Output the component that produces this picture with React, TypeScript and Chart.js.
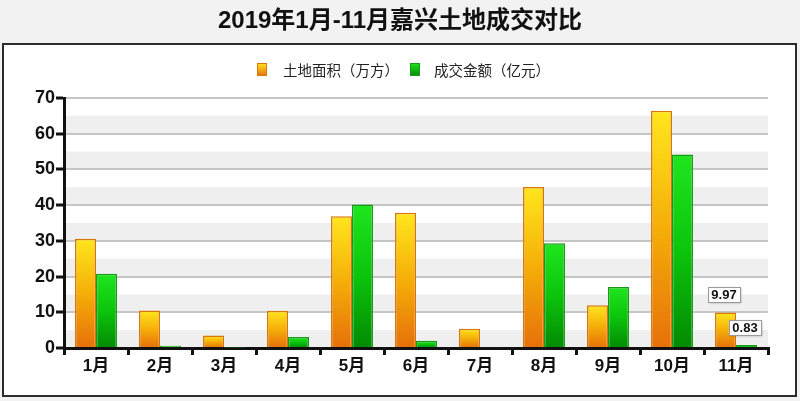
import React, { useEffect, useRef } from "react";
import { Chart, registerables } from "chart.js";

Chart.register(...registerables);

const titleText = "2019年1月-11月嘉兴土地成交对比";
const categories = ["1月", "2月", "3月", "4月", "5月", "6月", "7月", "8月", "9月", "10月", "11月"];
const seriesNames = ["土地面积（万方）", "成交金额（亿元）"];
const landArea = [30.6, 10.5, 3.5, 10.4, 36.9, 37.9, 5.4, 45.1, 12.0, 66.4, 9.97];
const dealAmount = [20.8, 0.6, 0.15, 3.1, 40.2, 2.0, 0.2, 29.3, 17.1, 54.2, 0.83];
const labeledIndex = [10];
const yMin = 0;
const yMax = 70;

const CJK = "'Liberation Sans', Arial, 'Noto Sans CJK SC', sans-serif";

const palettes = [
  { top: "#ffe61e", mid: "#f5ae08", bottom: "#e6700a", border: "#d8760a" },
  { top: "#1ee61e", mid: "#0cc40c", bottom: "#038a03", border: "#189a18" },
];

function makeGradient(ctx: any, idx: number) {
  const chart = ctx.chart;
  const p = palettes[idx];
  const area = chart.chartArea;
  if (!area || ctx.type !== "data" || !chart.scales || !chart.scales.y) return p.mid;
  const y = chart.scales.y;
  const v = Number(ctx.raw);
  const top = y.getPixelForValue(v);
  const bottom = y.getPixelForValue(0);
  if (!isFinite(top) || !isFinite(bottom) || bottom - top < 1) return p.mid;
  const g = chart.ctx.createLinearGradient(0, top, 0, bottom);
  g.addColorStop(0, p.top);
  g.addColorStop(0.5, p.mid);
  g.addColorStop(1, p.bottom);
  return g;
}

const backgroundPlugin = {
  id: "bgPanel",
  beforeDraw(chart: any) {
    const { ctx, chartArea, scales } = chart;
    ctx.save();
    ctx.fillStyle = "#f2f2f2";
    ctx.fillRect(0, 0, chart.width, chart.height);
    ctx.fillStyle = "#ffffff";
    ctx.fillRect(3, 44, 793, 352);
    ctx.strokeStyle = "#2b2b2b";
    ctx.lineWidth = 2;
    ctx.strokeRect(3, 44, 793, 352);
    if (chartArea && scales.y) {
      ctx.fillStyle = "#efefef";
      for (let v = yMin; v < yMax; v += 10) {
        const y1 = scales.y.getPixelForValue(v + 5);
        const y0 = scales.y.getPixelForValue(v);
        ctx.fillRect(chartArea.left, y1, chartArea.right - chartArea.left, y0 - y1);
      }
    }
    ctx.fillStyle = "#111111";
    ctx.font = `bold 24px ${CJK}`;
    ctx.textAlign = "center";
    ctx.textBaseline = "middle";
    ctx.fillText(titleText, 400, 21);
    const items = [
      { x: 257, tx: 283, p: palettes[0], name: seriesNames[0] },
      { x: 410, tx: 434, p: palettes[1], name: seriesNames[1] },
    ];
    items.forEach((it) => {
      const g = ctx.createLinearGradient(0, 63, 0, 76);
      g.addColorStop(0, it.p.top);
      g.addColorStop(1, it.p.bottom);
      ctx.fillStyle = g;
      ctx.fillRect(it.x, 63, 10, 13);
      ctx.strokeStyle = it.p.border;
      ctx.lineWidth = 1;
      ctx.strokeRect(it.x + 0.5, 63.5, 9, 12);
      ctx.fillStyle = "#222222";
      ctx.font = `14.5px 'Noto Sans CJK SC', sans-serif`;
      ctx.textAlign = "left";
      ctx.textBaseline = "middle";
      ctx.fillText(it.name, it.tx, 70);
    });
    ctx.restore();
  },
};

const labelPlugin = {
  id: "valueLabels",
  afterDatasetsDraw(chart: any) {
    const { ctx } = chart;
    ctx.save();
    chart.data.datasets.forEach((ds: any, di: number) => {
      const meta = chart.getDatasetMeta(di);
      labeledIndex.forEach((idx) => {
        const el = meta.data[idx];
        if (!el) return;
        const text = Number(ds.data[idx]).toFixed(2);
        ctx.font = `bold 13px ${CJK}`;
        const w = ctx.measureText(text).width + 7;
        const h = 15;
        const cx = el.x - 1.5;
        const bottom = el.y - 10;
        ctx.shadowColor = "rgba(0,0,0,0.35)";
        ctx.shadowBlur = 2;
        ctx.shadowOffsetX = 1;
        ctx.shadowOffsetY = 1;
        ctx.fillStyle = "#ffffff";
        ctx.fillRect(cx - w / 2, bottom - h, w, h);
        ctx.shadowColor = "transparent";
        ctx.strokeStyle = "#9a9a9a";
        ctx.lineWidth = 1;
        ctx.strokeRect(Math.round(cx - w / 2) + 0.5, Math.round(bottom - h) + 0.5, Math.round(w), h);
        ctx.fillStyle = "#111111";
        ctx.textAlign = "center";
        ctx.textBaseline = "middle";
        ctx.fillText(text, cx, bottom - h / 2 + 0.5);
      });
    });
    ctx.restore();
  },
};

export default function App() {
  const canvasRef = useRef<HTMLCanvasElement | null>(null);

  useEffect(() => {
    document.body.style.margin = "0";
    const canvas = canvasRef.current;
    if (!canvas) return;
    const chart = new Chart(canvas, {
      type: "bar",
      data: {
        labels: categories,
        datasets: [
          {
            label: seriesNames[0],
            data: landArea,
            backgroundColor: (c: any) => makeGradient(c, 0),
            borderColor: palettes[0].border,
            borderWidth: 1.5,
            categoryPercentage: 0.656,
            barPercentage: 1,
          },
          {
            label: seriesNames[1],
            data: dealAmount,
            backgroundColor: (c: any) => makeGradient(c, 1),
            borderColor: palettes[1].border,
            borderWidth: 1.5,
            categoryPercentage: 0.656,
            barPercentage: 1,
          },
        ],
      },
      options: {
        responsive: false,
        animation: false,
        layout: { padding: { top: 98, right: 32, left: 0, bottom: 0 } },
        plugins: {
          legend: { display: false },
          title: { display: false },
          tooltip: { enabled: false },
        },
        scales: {
          x: {
            afterFit: (s: any) => {
              s.height = 53;
            },
            border: { color: "#111111", width: 3 },
            grid: {
              drawOnChartArea: false,
              color: "#111111",
              tickColor: "#111111",
              tickLength: 7,
              lineWidth: 3,
            },
            ticks: {
              color: "#111111",
              font: { family: CJK, size: 17, weight: "bold" },
              padding: 1,
            },
          },
          y: {
            min: yMin,
            max: yMax,
            afterFit: (s: any) => {
              s.width = 64;
            },
            border: { color: "#111111", width: 3 },
            grid: {
              color: "#c6c6c6",
              lineWidth: 2,
              tickLength: 8,
              tickColor: (c: any) => (c.tick && c.tick.value % 10 === 0 ? "#111111" : "rgba(0,0,0,0)"),
              tickWidth: 3,
            },
            ticks: {
              stepSize: 5,
              color: "#111111",
              font: { family: CJK, size: 18, weight: "bold" },
              padding: 1,
              callback: (v: any) => (Number(v) % 10 === 0 ? String(v) : ""),
            },
          },
        },
      },
      plugins: [backgroundPlugin, labelPlugin],
    });
    return () => chart.destroy();
  }, []);

  return (
    <div style={{ width: 800, height: 401, position: "relative" }}>
      <canvas ref={canvasRef} width={800} height={401} style={{ display: "block" }} />
    </div>
  );
}
